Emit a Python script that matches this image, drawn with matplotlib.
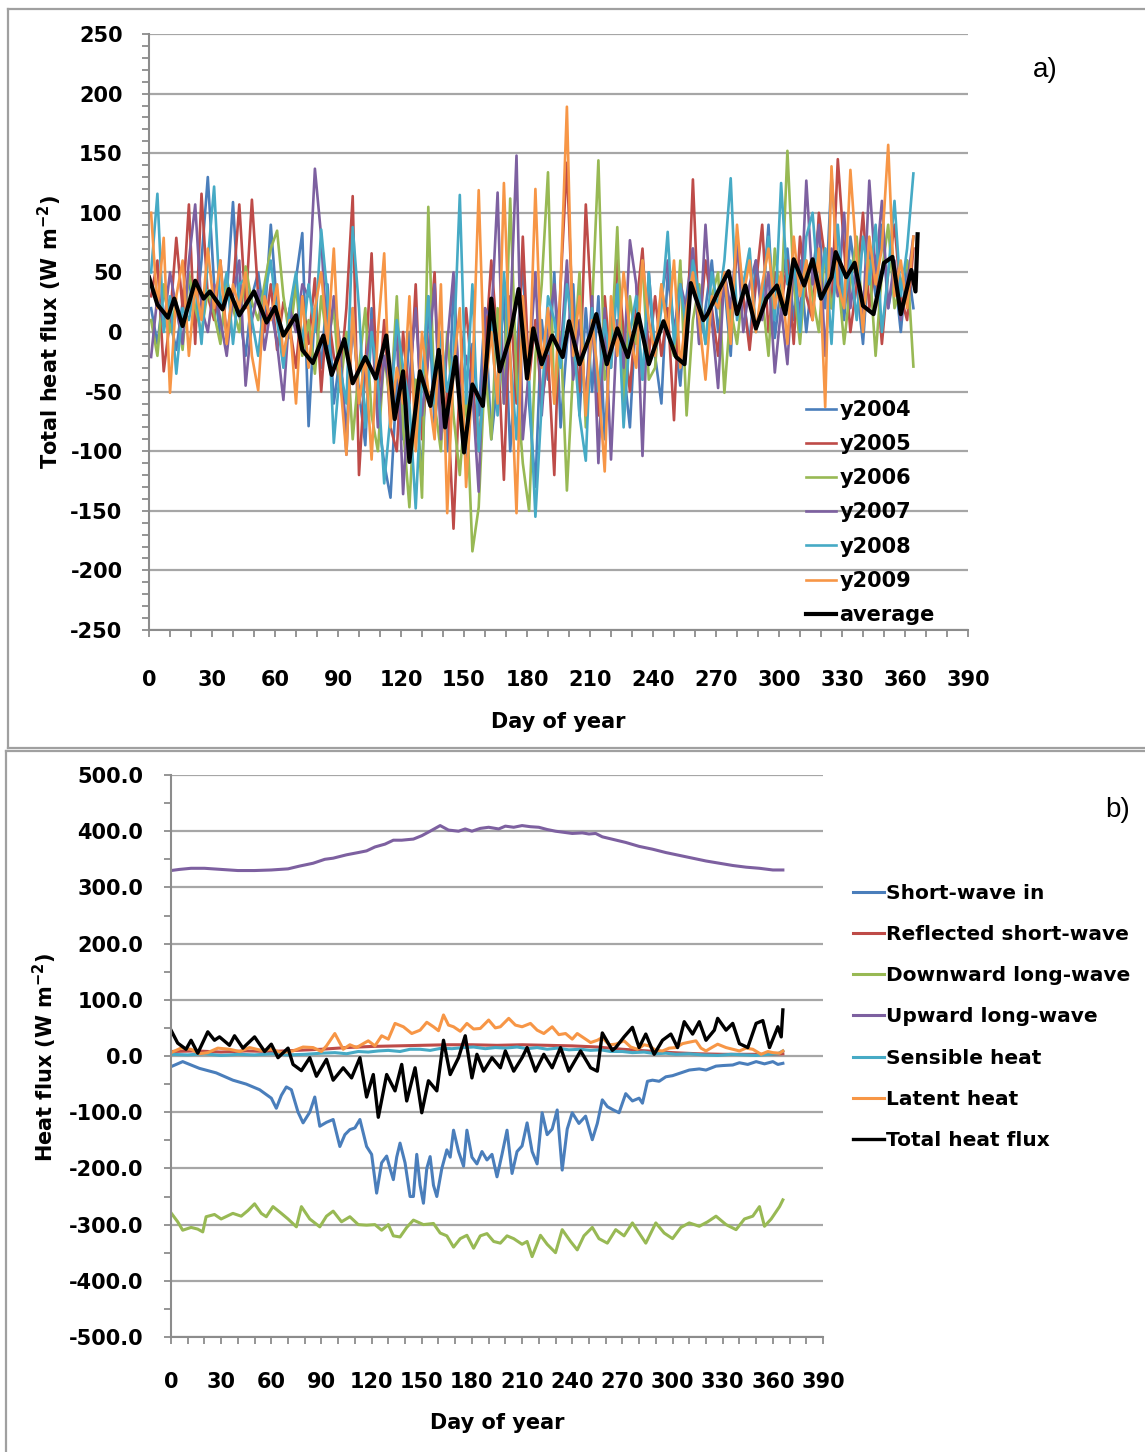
import matplotlib
matplotlib.use("Agg")
import numpy as np
import matplotlib.pyplot as plt
from matplotlib.ticker import MultipleLocator, FuncFormatter
from matplotlib.lines import Line2D

plt.rcParams["font.family"] = ["DejaVu Sans"]
plt.rcParams["font.weight"] = "bold"
plt.rcParams["mathtext.default"] = "regular"
plt.rcParams["axes.unicode_minus"] = False

# ==== data: panel a (daily total heat flux per year, read every 3 days) ==== #
year_days = np.arange(1, 365, 3)   # 1, 4, ..., 364

y2004 = [20, -10, 35, 10, -15, 25, 45, 5, 60, 130,
         40, -5, 30, 109, 15, -20, 30, 50, 10, 90,
         20, -25, 10, 45, 83, -79, 20, -30, 40, -60,
         -20, -85, 10, -50, -95, 20, -70, -110, -139, -40,
         -90, 0, -60, -120, 30, -80, -20, -100, 40, -60,
         -110, -10, -70, 20, -90, -40, 30, -100, -20, 60,
         -60, -130, 10, -40, 50, -80, -10, 40, -70, 20,
         -50, 30, -90, 0, 60, -30, -80, 20, -40, 40,
         -20, -60, 50, 0, -45, 30, 70, -10, 20, 60,
         0, 40, -20, 80, 30, -10, 60, 20, 90, -5,
         40, 70, 10, 60, 0, 50, 90, 20, 131, 60,
         10, 80, 40, -10, 70, 30, 90, 20, 50, 0,
         60, 20]
y2005 = [30, 60, -33, 10, 79, 20, 107, -10, 116, 30,
         10, 60, -5, 35, 107, 20, 111, 30, 0, 40,
         -15, 25, 5, -30, 30, -10, 45, -50, 20, -20,
         -40, 20, 114, -120, -30, 66, -60, 10, -80, -100,
         0, -60, 40, -90, -20, 50, -90, -50, -165, -40,
         20, -40, -100, -20, 60, -10, -124, 30, -60, 80,
         -40, 10, -60, -20, -120, 40, 142, 0, -50, 107,
         10, -70, 30, -30, 60, 0, -50, 20, 70, -20,
         30, -20, 20, -74, 50, -10, 128, 0, 60, 20,
         -20, 50, 10, 70, 30, -15, 40, 90, 0, 50,
         20, 60, -10, 80, 30, 10, 100, 60, 20, 145,
         70, 0, 40, 100, 20, 60, -10, 50, 90, 30,
         10, 70]
y2006 = [10, -20, 40, 0, 25, -15, 50, 20, 0, 35,
         15, -10, 45, 20, 0, 55, 25, 10, 40, 70,
         85, 30, -5, 40, -20, 10, -35, 30, -10, 20,
         -50, 0, -90, -30, 20, -70, -100, -20, -60, 30,
         -80, -147, -40, -139, 105, -60, -100, 0, -70, -120,
         -50, -184, -147, -30, -90, 20, -60, 112, -40, -110,
         -150, -20, 40, 134, -60, 0, -133, -30, 50, -80,
         20, 144, -40, -20, 88, -60, 30, -10, 60, -40,
         -30, 40, 0, -20, 60, -70, 10, 40, -10, 30,
         50, -51, 20, -10, 40, 60, 0, 30, -20, 70,
         20, 152, 40, -10, 60, 30, 0, 70, 20, 50,
         -10, 40, 80, 10, 60, -20, 50, 90, 20, 40,
         60, -29]
y2007 = [-21, 30, 5, 50, 20, -10, 60, 107, 20, 0,
         40, 10, -20, 30, 60, -45, 10, 35, -15, 20,
         -10, -57, 20, 0, 40, 30, 137, 80, -20, 30,
         -10, -103, 20, -60, -30, 10, -80, -20, -50, 0,
         -136, -40, 20, -70, -20, 40, -90, -10, 50, -60,
         -20, -50, -134, 20, 10, 117, -60, 10, 148, -90,
         -30, 50, -70, 0, 40, -20, 60, -40, 10, -60,
         30, -110, 20, -107, 10, -30, 77, 40, -104, 50,
         -20, 30, 60, 0, 40, 20, 70, -10, 90, 10,
         -47, 50, 20, 80, 0, 40, 60, 10, 50, -34,
         20, -27, 60, 10, 127, 40, 90, -20, 70, 30,
         100, 20, 60, 10, 127, 50, 110, 20, 60, 10,
         40, 80]
y2008 = [50, 116, 0, 30, -35, 20, 10, 40, -10, 60,
         122, 20, 50, -10, 40, 45, 10, -20, 30, 60,
         10, -30, 20, 50, -10, 40, 0, 86, 30, -93,
         -30, -60, 88, 20, -80, 0, -40, -127, -70, 10,
         -30, -60, -148, -40, 30, -60, 0, -50, -20, 115,
         -60, 40, -100, -30, 10, -70, 50, -20, -90, 20,
         -40, -155, -60, 30, 10, -30, 40, 0, -70, -108,
         20, -50, 10, -30, 40, -80, 0, 30, -40, 50,
         -20, 20, 84, -10, 40, 0, 60, 30, -10, 50,
         20, 60, 129, 10, 40, 70, 0, 30, 80, 10,
         125, 40, 60, 0, 80, 100, 30, 70, -10, 90,
         20, 60, 10, 80, 40, 90, 0, 50, 110, 30,
         70, 133]
y2009 = [100, 20, 79, -51, 30, 60, -20, 40, 10, 70,
         20, 60, -10, 40, 20, 50, -20, -49, 30, 10,
         40, -20, 10, -60, 30, -30, 20, 50, -10, 70,
         -40, -103, 20, -60, -20, -107, 0, 66, -80, -30,
         -60, 30, -100, 0, -50, -90, 40, -152, -30, 20,
         -130, -40, 119, -50, 0, -60, 125, -20, -152, 30,
         -40, 120, -30, 20, -60, 40, 189, -20, 30, -70,
         10, -40, -117, 30, -20, 50, 0, -30, 60, 10,
         -20, 40, 0, 60, -30, 20, 50, 10, -40, 30,
         20, 50, -10, 90, 30, 60, 0, 40, 70, 20,
         50, -10, 80, 30, 60, 10, 70, -63, 139, 40,
         20, 136, 60, 0, 80, 40, 70, 157, 30, 60,
         20, 80]

year_labels = ["y2004", "y2005", "y2006", "y2007", "y2008", "y2009"]
year_colors = ["#4A7EBB", "#BE4B48", "#98B954", "#7D60A0", "#46AAC5", "#F79646"]

# average / total heat flux (same series in both panels)
avg_days = [0, 4, 9, 12, 16, 22, 26, 29, 35, 38, 43, 50, 56, 60, 64, 70, 73, 78, 83, 87,
            93, 97, 103, 108, 113, 117, 121, 124, 129, 134, 138, 141, 146, 150, 154, 159, 163, 167, 172, 176,
            180, 183, 187, 192, 197, 200, 205, 210, 213, 218, 223, 228, 233, 238, 245, 251, 255, 258, 264, 266,
            271, 276, 280, 284, 289, 294, 299, 303, 307, 312, 316, 320, 325, 327, 332, 336, 340, 345, 350, 354,
            358, 363, 365, 366]
avg_vals = [46, 23, 12, 28, 5, 43, 28, 34, 19, 36, 14, 34, 8, 21, -3, 14, -15, -26, -3, -36,
            -6, -43, -21, -39, -3, -73, -33, -109, -33, -62, -15, -80, -21, -101, -44, -62, 28, -33, -3, 36,
            -39, 3, -27, -3, -21, 9, -27, -3, 15, -27, 3, -21, 15, -27, 9, -21, -27, 41, 10, 15,
            34, 51, 15, 39, 3, 28, 39, 15, 61, 39, 61, 28, 46, 67, 46, 58, 22, 15, 58, 63,
            15, 52, 34, 82]

# ==== data: panel b (heat budget components) ==== #
sw_days = [0, 7, 17, 27, 37, 45, 53, 60, 63, 66, 69, 72, 76, 79, 83, 86, 89, 93, 97, 101,
           104, 107, 110, 113, 117, 120, 123, 126, 129, 131, 133, 135, 137, 140, 143, 145, 147, 149, 151, 153,
           155, 157, 159, 162, 165, 167, 169, 172, 175, 177, 180, 183, 186, 189, 192, 195, 198, 201, 204, 207,
           210, 213, 216, 219, 222, 225, 228, 231, 234, 237, 240, 244, 248, 252, 255, 258, 261, 264, 268, 272,
           276, 280, 282, 285, 288, 292, 296, 300, 305, 310, 316, 320, 326, 330, 336, 340, 345, 350, 355, 360,
           363, 366]
sw_vals = [-19, -10, -22, -30, -43, -50, -60, -75, -93, -70, -55, -60, -100, -119, -100, -73, -125, -118, -113, -161,
           -140, -131, -128, -113, -161, -175, -244, -190, -178, -200, -220, -180, -155, -190, -250, -250, -175, -230, -262, -200,
           -179, -230, -250, -200, -167, -180, -132, -170, -196, -132, -180, -192, -170, -185, -175, -215, -175, -132, -209, -170,
           -160, -119, -170, -192, -101, -140, -130, -96, -203, -130, -101, -120, -107, -149, -120, -78, -90, -95, -101, -67,
           -80, -75, -84, -45, -43, -45, -37, -35, -30, -25, -23, -25, -18, -17, -16, -12, -15, -10, -14, -10,
           -15, -13]

refl_days = [0, 15, 30, 45, 60, 75, 90, 105, 120, 135, 150, 165, 180, 195, 210, 225, 240, 255, 270, 285,
             300, 315, 330, 345, 360, 366]
refl_vals = [8, 9, 7, 9, 8, 10, 12, 15, 17, 18, 19, 20, 20, 19, 20, 19, 18, 16, 12, 9,
             6, 4, 3, 3, 3, 4]

lwd_days = [0, 4, 7, 12, 16, 19, 21, 26, 30, 37, 42, 46, 50, 54, 57, 61, 66, 70, 75, 78,
            83, 89, 93, 97, 102, 107, 112, 117, 122, 126, 130, 133, 137, 141, 145, 151, 157, 161, 165, 169,
            173, 177, 181, 185, 189, 193, 197, 201, 205, 210, 213, 216, 221, 225, 230, 234, 239, 243, 247, 252,
            256, 261, 266, 271, 276, 280, 284, 290, 295, 300, 305, 310, 316, 321, 326, 332, 338, 343, 348, 352,
            355, 359, 364, 366]
lwd_vals = [-279, -295, -310, -305, -308, -313, -286, -282, -290, -280, -285, -275, -263, -280, -286, -268, -280, -290, -304, -268,
            -290, -304, -285, -276, -295, -286, -300, -301, -300, -310, -300, -320, -322, -305, -292, -300, -298, -315, -320, -340,
            -325, -319, -342, -320, -316, -330, -333, -320, -325, -335, -330, -357, -319, -335, -350, -309, -330, -345, -320, -305,
            -325, -333, -309, -320, -297, -315, -333, -297, -315, -325, -305, -297, -303, -295, -285, -300, -309, -290, -285, -268,
            -303, -290, -268, -256]

lwu_days = [0, 5, 12, 20, 30, 40, 50, 60, 70, 77, 85, 92, 97, 105, 112, 117, 122, 128, 133, 138,
            145, 150, 155, 161, 166, 172, 176, 180, 185, 190, 196, 200, 205, 210, 215, 220, 225, 230, 235, 240,
            246, 250, 254, 258, 265, 272, 280, 288, 296, 304, 312, 320, 328, 336, 344, 352, 360, 366]
lwu_vals = [330, 332, 334, 334, 332, 330, 330, 331, 333, 338, 343, 350, 352, 358, 362, 365, 372, 377, 384, 384,
            386, 392, 400, 410, 402, 400, 404, 400, 405, 407, 404, 409, 407, 410, 408, 407, 403, 400, 398, 396,
            397, 395, 396, 390, 385, 380, 373, 368, 362, 357, 352, 347, 343, 339, 336, 334, 331, 331]

sens_days = [0, 10, 20, 30, 40, 50, 60, 70, 80, 90, 98, 105, 112, 118, 124, 130, 137, 143, 149, 155,
             162, 168, 175, 181, 188, 194, 200, 207, 213, 219, 225, 231, 238, 245, 251, 257, 263, 270, 276, 283,
             290, 296, 302, 310, 318, 327, 335, 343, 350, 358, 363, 366]
sens_vals = [3, 2, 4, 1, 3, 2, 4, 2, 3, 5, 6, 4, 8, 7, 9, 10, 8, 12, 12, 10,
             14, 13, 15, 16, 13, 15, 14, 16, 13, 15, 12, 14, 11, 12, 10, 11, 8, 8, 6, 7,
             4, 5, 3, 4, 2, 1, 3, 2, 1, 3, 4, 9]

lat_days = [0, 6, 12, 17, 22, 28, 35, 41, 47, 54, 60, 66, 73, 79, 85, 90, 93, 98, 103, 107,
            111, 115, 118, 122, 126, 130, 134, 139, 144, 149, 153, 157, 160, 163, 166, 169, 173, 177, 181, 185,
            190, 194, 197, 202, 206, 210, 215, 219, 223, 228, 232, 236, 240, 243, 247, 251, 255, 258, 262, 266,
            271, 275, 279, 283, 286, 290, 294, 298, 302, 306, 309, 314, 317, 320, 324, 327, 332, 336, 340, 344,
            348, 353, 357, 360, 364, 366]
lat_vals = [6, 14, 12, 4, 6, 14, 12, 8, 15, 10, 12, 6, 9, 16, 15, 8, 18, 40, 12, 20,
            15, 22, 27, 18, 36, 30, 58, 52, 40, 46, 60, 52, 45, 73, 55, 52, 44, 58, 48, 49,
            64, 50, 52, 67, 55, 52, 58, 46, 40, 52, 38, 40, 30, 40, 32, 24, 28, 33, 20, 21,
            27, 16, 12, 20, 18, 10, 9, 14, 15, 22, 24, 27, 14, 9, 16, 21, 15, 12, 9, 14,
            12, 3, 8, 6, 5, 9]

comp_labels = ["Short-wave in", "Reflected short-wave", "Downward long-wave",
               "Upward long-wave", "Sensible heat", "Latent heat", "Total heat flux"]

# ==== figure ==== #
W, H = 1145, 1452
fig = plt.figure(figsize=(W / 100, H / 100), dpi=100)


def frac(x0, y0, x1, y1):
    # pixel box -> figure fraction rect
    return [x0 / W, 1 - y1 / H, (x1 - x0) / W, (y1 - y0) / H]


def style_axes(ax, ymin, ymax, ystep, yminor, fmt, ypad, xpad):
    ax.set_xlim(0, 390)
    ax.set_ylim(ymin, ymax)
    ax.xaxis.set_major_locator(MultipleLocator(30))
    ax.xaxis.set_minor_locator(MultipleLocator(10))
    ax.yaxis.set_major_locator(MultipleLocator(ystep))
    ax.yaxis.set_minor_locator(MultipleLocator(yminor))
    ax.yaxis.set_major_formatter(FuncFormatter(fmt))
    for s in ["top", "right"]:
        ax.spines[s].set_visible(False)
    for s in ["left", "bottom"]:
        ax.spines[s].set_color("#8C8C8C")
        ax.spines[s].set_linewidth(1.5)
    ax.grid(axis="y", color="#A6A6A6", linewidth=1.6)
    ax.set_axisbelow(True)
    ax.tick_params(which="both", direction="out", length=5, width=1.3, color="#8C8C8C")
    ax.tick_params(axis="y", which="major", pad=ypad, labelsize=15)
    ax.tick_params(axis="x", which="major", pad=xpad, labelsize=15)
    for lab in ax.get_xticklabels() + ax.get_yticklabels():
        lab.set_fontweight("bold")


# ---- panel a ----
axa = fig.add_axes(frac(149, 34, 968, 630))
for vals, lab, col in zip([y2004, y2005, y2006, y2007, y2008, y2009], year_labels, year_colors):
    axa.plot(year_days, vals, color=col, lw=1.9, label=lab)
axa.plot(avg_days, avg_vals, color="black", lw=3.0, label="average")
style_axes(axa, -250, 250, 50, 10, lambda v, p: f"{v:.0f}", 14, 23.5)
axa.set_ylabel("Total heat flux (W m$^{-2}$)", fontsize=15, fontweight="bold", va="center")
axa.yaxis.set_label_coords(-0.121, 0.5)
axa.set_xlabel("Day of year", fontsize=15, fontweight="bold")
axa.xaxis.set_label_coords(0.5, -0.154)
axa.xaxis.label.set_va("center")
axa.legend(loc="upper left", bbox_to_anchor=(806 / W, 1 - 400 / H), bbox_transform=fig.transFigure,
           frameon=False, handlelength=1.45, handletextpad=0.15,
           labelspacing=0.68, borderpad=0, borderaxespad=0, prop={"weight": "bold", "size": 15})
fig.text(1045 / W, 1 - 70 / H, "a)", fontsize=20, fontweight="normal",
         family="Liberation Sans", ha="center", va="center")

# ---- panel b ----
axb = fig.add_axes(frac(171, 775, 823, 1337))
axb.plot(sw_days, sw_vals, color="#4A7EBB", lw=2.2, label=comp_labels[0])
axb.plot(refl_days, refl_vals, color="#BE4B48", lw=2.2, label=comp_labels[1])
axb.plot(lwd_days, lwd_vals, color="#98B954", lw=2.2, label=comp_labels[2])
axb.plot(lwu_days, lwu_vals, color="#7D60A0", lw=2.2, label=comp_labels[3])
axb.plot(sens_days, sens_vals, color="#46AAC5", lw=2.2, label=comp_labels[4])
axb.plot(lat_days, lat_vals, color="#F79646", lw=2.2, label=comp_labels[5])
axb.plot(avg_days, avg_vals, color="black", lw=2.4, label=comp_labels[6])
style_axes(axb, -500, 500, 100, 50, lambda v, p: f"{v:.1f}", 15, 20.5)
axb.set_ylabel("Heat flux (W m$^{-2}$)", fontsize=15, fontweight="bold", va="center")
axb.yaxis.set_label_coords(-0.193, 0.498)
axb.set_xlabel("Day of year", fontsize=15, fontweight="bold")
axb.xaxis.set_label_coords(0.5, -0.153)
axb.xaxis.label.set_va("center")
axb.legend(loc="upper left", bbox_to_anchor=(853 / W, 1 - 884 / H), bbox_transform=fig.transFigure,
           frameon=False, handlelength=1.55, handletextpad=0.1,
           labelspacing=1.1, borderpad=0, borderaxespad=0, prop={"weight": "bold", "size": 14.5})
fig.text(1118 / W, 1 - 810 / H, "b)", fontsize=20, fontweight="normal",
         family="Liberation Sans", ha="center", va="center")

# ---- panel frames ----
frame = dict(color="#A0A0A0", lw=1.6, transform=fig.transFigure)
fig.add_artist(Line2D([8 / W, 1], [1 - 9 / H, 1 - 9 / H], **frame))
fig.add_artist(Line2D([8 / W, 8 / W], [1 - 9 / H, 1 - 748 / H], **frame))
fig.add_artist(Line2D([8 / W, 1], [1 - 748 / H, 1 - 748 / H], **frame))
fig.add_artist(Line2D([6 / W, 1], [1 - 751 / H, 1 - 751 / H], **frame))
fig.add_artist(Line2D([6 / W, 6 / W], [1 - 751 / H, 0], **frame))

fig.savefig("out.png", dpi=100)
